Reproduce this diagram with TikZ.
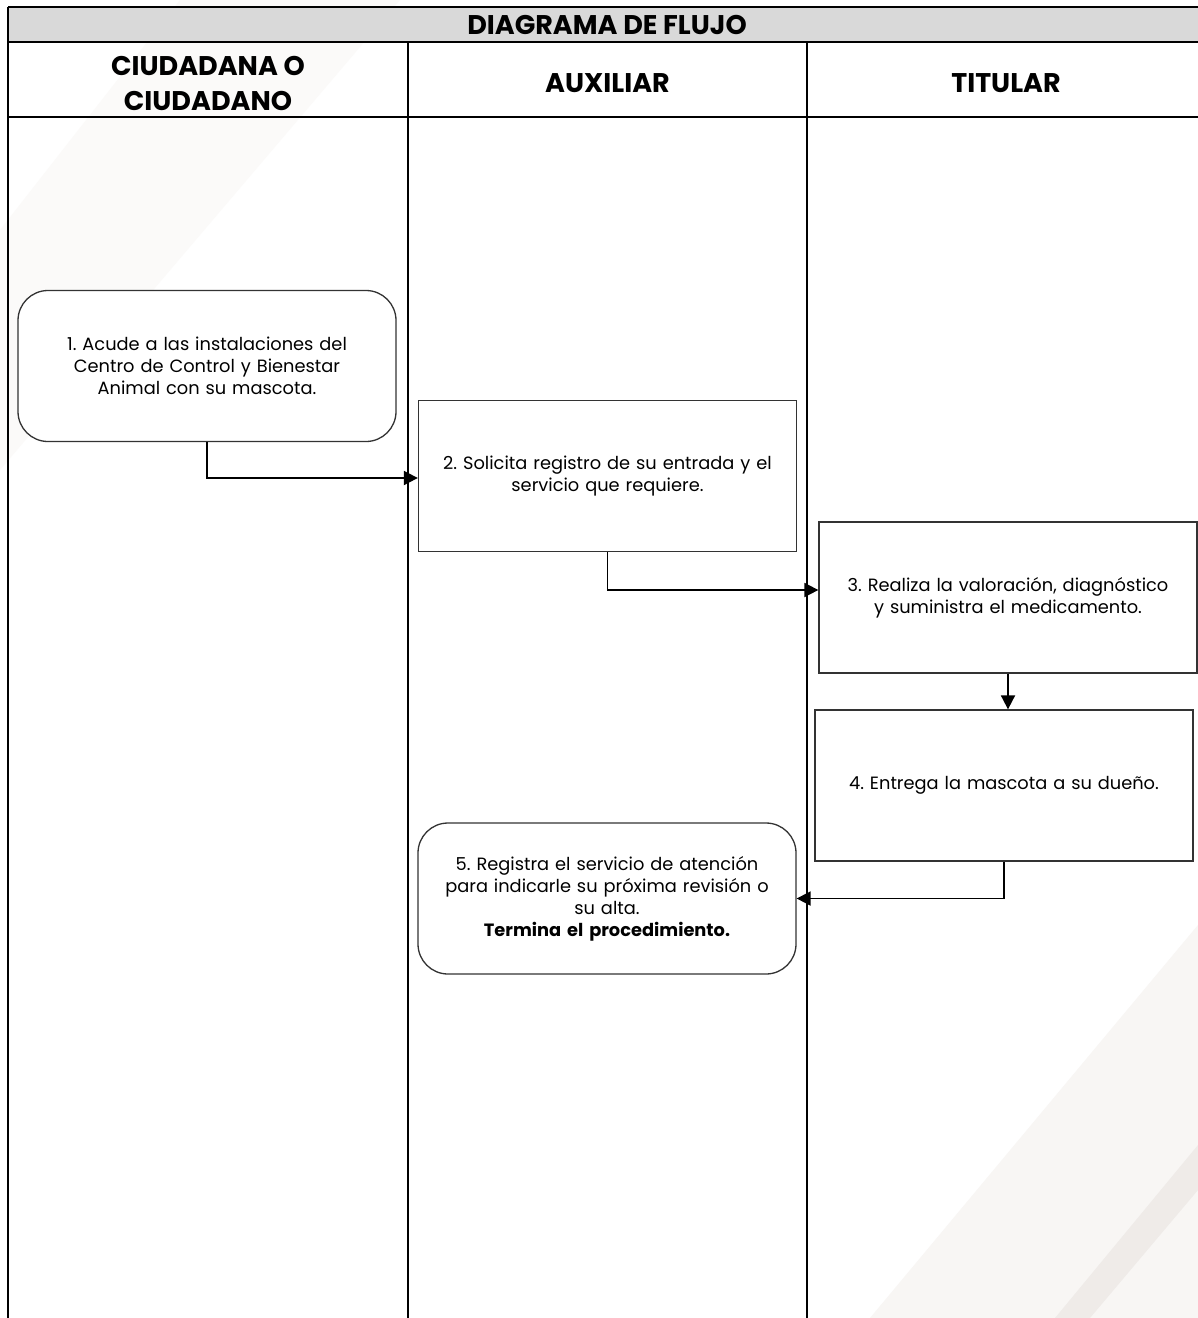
\documentclass[tikz,border=0pt]{standalone}
\usepackage{fontspec}
\setmainfont{Poppins}
\usetikzlibrary{arrows.meta}
\definecolor{gray3}{HTML}{333333}
\definecolor{band}{HTML}{D9D9D9}
\definecolor{wmlight}{HTML}{F8F6F4}
\definecolor{wmdark}{HTML}{EFEBE8}
\definecolor{wmfaint}{HTML}{FBFAF9}
\frenchspacing

\begin{document}
\begin{tikzpicture}[x=1pt, y=-1pt,
    stepbox/.style={draw=gray3, line width=1.3pt, fill=white, minimum width=378pt,
      minimum height=151pt, align=center, text width=366pt,
      font=\fontsize{17.8}{22}\selectfont},
    endbox/.style={stepbox, rounded corners=30pt},
    link/.style={line width=1.8pt, -{Triangle[length=14pt,width=14pt]}},
    lanetitle/.style={font=\fontsize{27}{35}\selectfont\bfseries, align=center},
    rule/.style={line width=2.2pt, black}]
    \useasboundingbox (0,0) rectangle (1198,1318);
    \clip (0,0) rectangle (1198,1318);
    \fill[white] (0,0) rectangle (1198,1318);

    % faint watermark bands
    \fill[wmfaint] (180,0) -- (400,0) -- (0,470) -- (0,230) -- cycle;
    \fill[wmlight] (870,1318) -- (1198,925) -- (1198,1318) -- cycle;
    \fill[wmdark] (1055,1318) -- (1198,1145) -- (1198,1190) -- (1090,1318) -- cycle;

    % table frame and lanes
    \fill[band] (8,7) rectangle (1206,42);
    \draw[rule] (8,7) -- (1206,7);
    \draw[rule] (8,42) -- (1206,42);
    \draw[rule] (8,117) -- (1206,117);
    \draw[rule] (8,7) -- (8,1330);
    \draw[rule] (408,42) -- (408,1330);
    \draw[rule] (807,42) -- (807,1330);
    \draw[rule] (1206,7) -- (1206,1330);

    \node[lanetitle] (title) at (607,25) {DIAGRAMA DE FLUJO};
    \node[lanetitle] (citizen) at (208,83) {CIUDADANA O\\CIUDADANO};
    \node[lanetitle] (aux) at (607.5,83) {AUXILIAR};
    \node[lanetitle] (holder) at (1006,83) {TITULAR};

    % process steps
    \node[endbox] (p1) at (207,366) {1. Acude a las instalaciones del\\Centro de Control y Bienestar\\Animal con su mascota.};
    \node[stepbox, text depth=26pt] (p2) at (607.5,476) {2. Solicita registro de su entrada y el\\servicio que requiere.};
    \node[stepbox] (p3) at (1008,597.5) {3. Realiza la valoración, diagnóstico\\y suministra el medicamento.};
    \node[stepbox] (p4) at (1004,785.5) {4. Entrega la mascota a su dueño.};
    \node[endbox] (p5) at (607,898.5) {5. Registra el servicio de atención\\para indicarle su próxima revisión o\\su alta.\\\textbf{Termina el procedimiento.}};

    % connectors
    \draw[link] (p1.south) |- ([yshift=-2pt]p2.west);
    \draw[link] (p2.south) |- ([yshift=7.5pt]p3.west);
    \draw[link] (p3.south) -- (p3.south |- p4.north);
    \draw[link] (p4.south) |- (p5.east);
  \end{tikzpicture}
\end{document}
